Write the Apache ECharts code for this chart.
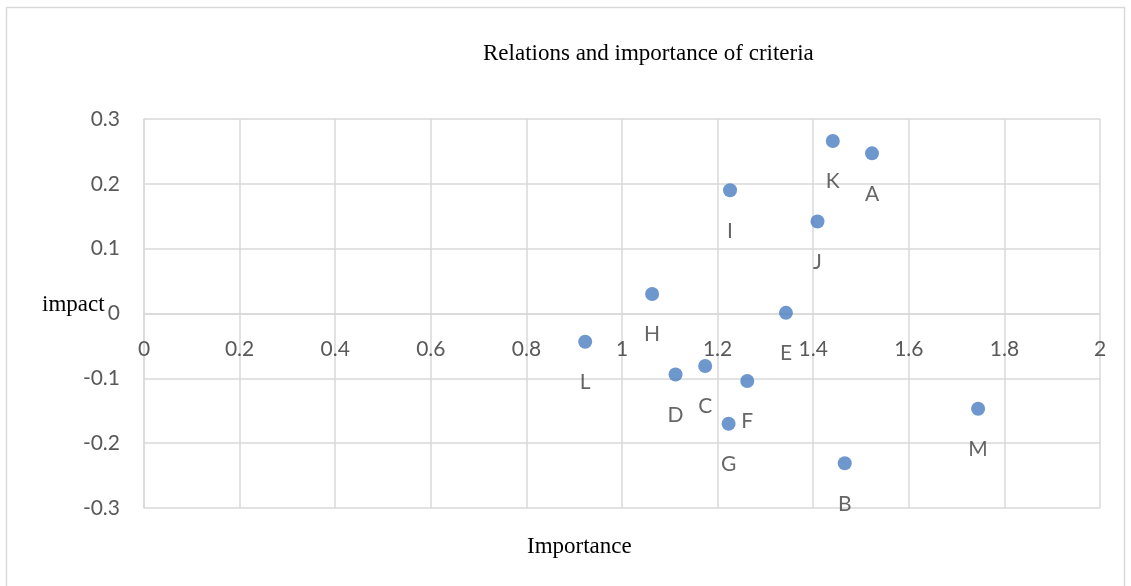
<!DOCTYPE html>
<html>
<head>
<meta charset="utf-8">
<script src="https://cdn.jsdelivr.net/npm/echarts@6/dist/echarts.min.js"></script>
<style>
  html, body { margin: 0; padding: 0; background: #fff; }
  #chart { width: 1131px; height: 586px; }
</style>
</head>
<body>
<div id="chart"></div>
<script>
// criteria labels with their importance (x) and impact (y)
const criteria = ['K', 'A', 'I', 'J', 'H', 'E', 'L', 'D', 'C', 'F', 'G', 'B', 'M'];
const importance = [1.441, 1.523, 1.226, 1.409, 1.063, 1.343, 0.923, 1.112, 1.174, 1.262, 1.223, 1.466, 1.745];
const impact = [0.266, 0.247, 0.190, 0.142, 0.030, 0.001, -0.0435, -0.094, -0.081, -0.104, -0.170, -0.231, -0.147];

const xTicks = { min: 0, max: 2, step: 0.2 };
const yTicks = { min: -0.3, max: 0.3, step: 0.1 };

const points = criteria.map((c, i) => ({ value: [importance[i], impact[i]], name: c }));

const chart = echarts.init(document.getElementById('chart'), null, { renderer: 'canvas' });

const gridColor = '#d9d9d9';
const tickColor = '#595959';
const uiFont = 'Lato, "Open Sans", sans-serif';
const serif = '"Liberation Serif", "DejaVu Serif", serif';

const gridTop = 119;
const gridBottom = 78;
const plotH = 586 - gridTop - gridBottom;
// x axis sits on impact = 0, Excel style
const zeroShift = plotH * (0 - yTicks.min) / (yTicks.max - yTicks.min);

chart.setOption({
  backgroundColor: '#fff',
  animation: false,
  grid: { left: 144, right: 31, top: gridTop, bottom: gridBottom, containLabel: false },
  graphic: [
    {
      type: 'rect',
      shape: { x: 6.5, y: 7.5, width: 1118, height: 620 },
      style: { fill: 'none', stroke: gridColor, lineWidth: 1.5 },
      silent: true,
    },
    {
      type: 'text',
      left: 483,
      top: 42,
      style: { text: 'Relations and importance of criteria', font: '23px ' + serif, fill: '#000' },
    },
    {
      type: 'text',
      left: 42,
      top: 293,
      style: { text: 'impact', font: '23px ' + serif, fill: '#000' },
    },
    {
      type: 'text',
      left: 527,
      top: 535,
      style: { text: 'Importance', font: '23px ' + serif, fill: '#000' },
    },
  ],
  xAxis: {
    type: 'value',
    min: xTicks.min,
    max: xTicks.max,
    interval: xTicks.step,
    position: 'bottom',
    offset: -zeroShift,
    axisLine: { onZero: false, lineStyle: { color: gridColor, width: 1.5 } },
    axisTick: { show: false },
    splitLine: { lineStyle: { color: gridColor, width: 1.5 } },
    axisLabel: {
      color: tickColor,
      fontSize: 21,
      fontFamily: uiFont,
      margin: 25,
      formatter: (v) => String(Math.round(v * 10) / 10),
    },
  },
  yAxis: {
    type: 'value',
    min: yTicks.min,
    max: yTicks.max,
    interval: yTicks.step,
    axisLine: { show: true, onZero: false, lineStyle: { color: gridColor, width: 1.5 } },
    axisTick: { show: false },
    splitLine: { lineStyle: { color: gridColor, width: 1.5 } },
    axisLabel: {
      color: tickColor,
      fontSize: 21,
      fontFamily: uiFont,
      margin: 24,
      formatter: (v) => String(Math.round(v * 10) / 10),
    },
  },
  series: [
    {
      type: 'scatter',
      data: points,
      symbol: 'circle',
      symbolSize: 14,
      itemStyle: { color: '#4a7dc0' },
      label: {
        show: true,
        position: 'bottom',
        distance: 23,
        formatter: (p) => p.name,
        color: '#404040',
        fontSize: 21,
        fontFamily: uiFont,
      },
    },
  ],
});
</script>
</body>
</html>
